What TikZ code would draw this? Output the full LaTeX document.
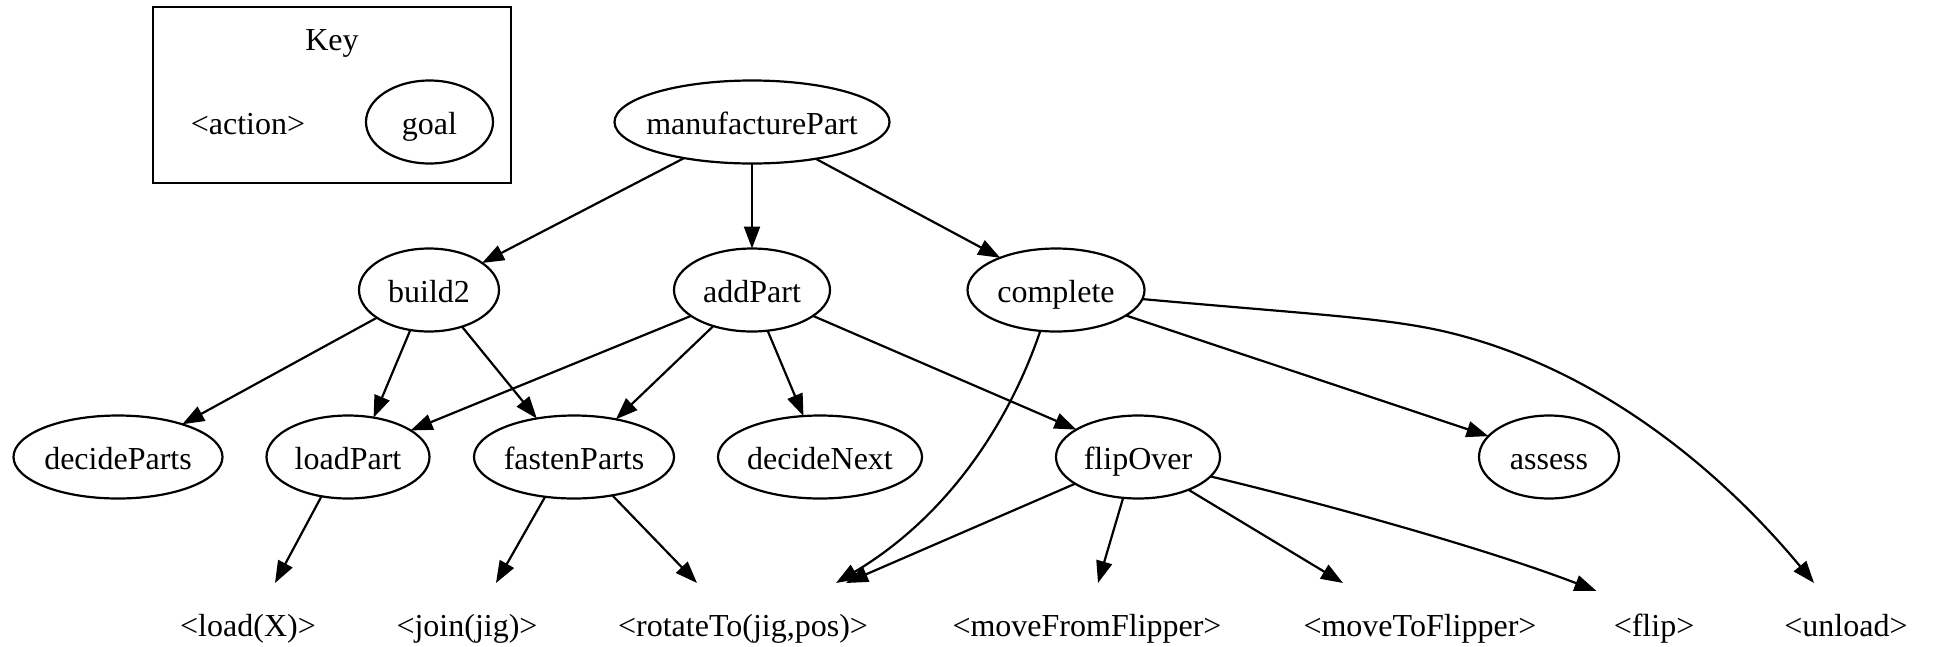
\documentclass[tikz,border=0pt]{standalone}
\usepackage{fontspec}
\setmainfont{Liberation Serif}
\usetikzlibrary{arrows.meta,shapes.geometric}
% centred label that does not widen its ellipse
\newcommand{\lbl}[1]{\makebox[0pt]{#1}}
\tikzset{
  txt/.style={font=\fontsize{32}{38}\selectfont, text height=26pt, text depth=2pt},
  goalnode/.style={txt, draw, ellipse, line width=2.2pt, inner sep=0pt, outer sep=0pt, minimum height=83pt},
  actnode/.style={txt, rectangle, inner sep=0pt, outer sep=0pt, minimum height=82pt, minimum width=123pt},
  edge/.style={line width=2.2pt, -{Triangle[length=22pt,width=16pt]}},
}
\begin{document}
\begin{tikzpicture}[x=1pt,y=-1pt]
\fill[white] (0,0) rectangle (1934,646);
\useasboundingbox (0,0) rectangle (1934,646);

% key
\node[draw, line width=2.2pt, rectangle, inner sep=0pt, minimum width=358pt, minimum height=176pt] (keybox) at (331.75,95) {};
\node[txt] (keytitle) at (332,38) {Key};
\node[txt] (keyaction) at (248,122) {<action>};
\node[goalnode, minimum width=127pt] (keygoal) at (429.5,122) {\lbl{goal}};

% goals
\node[goalnode, minimum width=275pt] (mp) at (752,122) {\lbl{manufacturePart}};
\node[goalnode, minimum width=140pt] (b2) at (429,290) {\lbl{build2}};
\node[goalnode, minimum width=156pt] (ap) at (752,290) {\lbl{addPart}};
\node[goalnode, minimum width=177pt] (cp) at (1056,290) {\lbl{complete}};
\node[goalnode, minimum width=209pt] (dp) at (118,457) {\lbl{decideParts}};
\node[goalnode, minimum width=163pt] (lp) at (348,457) {\lbl{loadPart}};
\node[goalnode, minimum width=200pt] (fp) at (574,457) {\lbl{fastenParts}};
\node[goalnode, minimum width=204pt] (dn) at (820,457) {\lbl{decideNext}};
\node[goalnode, minimum width=164pt] (fo) at (1138,457) {\lbl{flipOver}};
\node[goalnode, minimum width=140pt] (as) at (1549,457) {\lbl{assess}};

% actions
\node[actnode] (lx) at (248,624) {<load(X)>};
\node[actnode] (jn) at (467,624) {<join(jig)>};
\node[actnode] (rt) at (743,624) {<rotateTo(jig,pos)>};
\node[actnode] (mf) at (1087,624) {<moveFromFlipper>};
\node[actnode] (mt) at (1420,624) {<moveToFlipper>};
\node[actnode] (fl) at (1654,624) {<flip>};
\node[actnode] (ul) at (1846,624) {<unload>};

% decomposition edges
\draw[edge] (mp.208.5) -- (b2.27);
\draw[edge] (mp.south) -- (ap.north);
\draw[edge] (mp.330) -- (cp.150);

\draw[edge] (b2.208) -- (dp.27);
\draw[edge] (b2.245) -- (lp.57);
\draw[edge] (b2.312) -- (fp.134);

\draw[edge] (ap.203) -- (lp.23);
\draw[edge] (ap.223.5) -- (fp.42);
\draw[edge] (ap.291) -- (dn.112);
\draw[edge] (ap.337.6) -- (fo.156);

\draw[edge] (cp.249.6) .. controls (1010,420) and (950,515) .. ([xshift=93pt]rt.north);
\draw[edge] (cp.340) -- (as.161);
\draw[edge] (cp.354.8) .. controls (1320,315) and (1390,318) .. (1451,333)
                      .. controls (1600,370) and (1720,470) .. ([xshift=-32pt]ul.north);

\draw[edge] (lp.236.8) -- ([xshift=27pt]lx.north);
\draw[edge] (fp.234.2) -- ([xshift=29pt]jn.north);
\draw[edge] (fp.315.2) -- ([xshift=-46pt]rt.north);

\draw[edge] (fo.203.3) -- ([xshift=103pt]rt.north);
\draw[edge] (fo.250) -- ([xshift=11pt]mf.north);
\draw[edge] (fo.327.8) -- ([xshift=-77pt]mt.north);
\draw[edge] (fo.345.8) .. controls (1330,505) and (1490,550) .. ([xshift=4pt,yshift=-8pt]fl.north west);
\end{tikzpicture}
\end{document}
